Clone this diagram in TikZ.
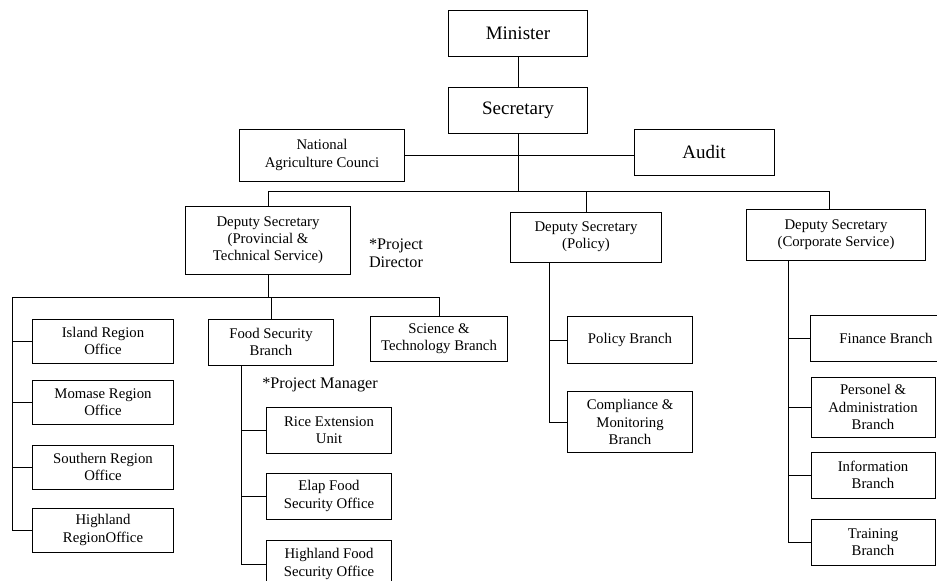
\documentclass[tikz,border=0pt]{standalone}
\usepackage{fontspec}
\setmainfont{Liberation Serif}
\usetikzlibrary{positioning}
\usetikzlibrary{calc}

\tikzset{
  unit box/.style={draw, rectangle, line width=0.7pt, align=center, inner sep=1pt,
    font=\fontsize{10.5}{12.3}\selectfont},
  big box/.style={unit box, font=\fontsize{13.5}{16}\selectfont},
  region box/.style={unit box, minimum width=3.5cm, minimum height=1.1cm},
  food box/.style={unit box, minimum width=3.125cm, minimum height=1.15cm},
  corp box/.style={unit box, minimum width=3.1cm, minimum height=1.15cm},
  note/.style={align=center, font=\fontsize{11.5}{12.8}\selectfont},
  link/.style={line width=0.7pt},
}

\begin{document}
\begin{tikzpicture}[x=0.025cm, y=-0.025cm]
    \useasboundingbox (0,0) rectangle (937,580);
    \clip (0,0) rectangle (937,580);

    % top of the chart
    \node[big box, minimum width=3.475cm, minimum height=1.15cm] (minister) at (518,33) {Minister};
    \node[big box, minimum width=3.475cm, minimum height=1.15cm, below=0.75cm of minister] (secretary) {Secretary};
    \node[unit box, minimum width=4.125cm, minimum height=1.3cm] (council) at (322,155) {National\\Agriculture Counci};
    \node[big box, minimum width=3.5cm, minimum height=1.15cm] (audit) at (704,152) {Audit};

    % deputy secretaries
    \node[unit box, minimum width=4.125cm, minimum height=1.7cm] (dsprov) at (268,240) {Deputy Secretary\\(Provincial \&\\Technical Service)};
    \node[unit box, minimum width=3.75cm, minimum height=1.25cm] (dspol) at (586,237) {Deputy Secretary\\(Policy)};
    \node[unit box, minimum width=4.475cm, minimum height=1.275cm] (dscorp) at (836,235) {Deputy Secretary\\(Corporate Service)};
    \node[note] (director) at (396,253) {*Project\\Director};

    % provincial and technical service
    \node[region box] (island) at (103,341) {Island Region\\Office};
    \node[region box, below=0.4cm of island] (momase) {Momase Region\\Office};
    \node[region box, below=0.5cm of momase] (southern) {Southern Region\\Office};
    \node[region box, below=0.45cm of southern] (highreg) {Highland\\RegionOffice};
    \node[food box] (fsb) at (271,342) {Food Security\\Branch};
    \node[unit box, minimum width=3.4cm, minimum height=1.125cm] (sci) at (439,339) {Science \&\\Technology Branch};

    \node[note] (manager) at (320,385) {*Project Manager};
    \node[food box] (rice) at (329,430) {Rice Extension\\Unit};
    \node[food box, below=0.475cm of rice] (elap) {Elap Food\\Security Office};
    \node[food box, minimum height=1.2cm, below=0.5cm of elap] (highfood) {Highland Food\\Security Office};

    % policy
    \node[food box, minimum height=1.175cm] (policy) at (630,340) {Policy Branch};
    \node[food box, minimum height=1.525cm, below=0.675cm of policy] (compliance) {Compliance \&\\Monitoring\\Branch};

    % corporate service
    \node[unit box, minimum width=3.775cm, minimum height=1.15cm] (finance) at (886,338) {Finance Branch};
    \node[corp box, minimum height=1.5cm] (personel) at (873,407) {Personel \&\\Administration\\Branch};
    \node[corp box, below=0.35cm of personel] (information) {Information\\Branch};
    \node[corp box, below=0.5cm of information] (training) {Training\\Branch};

    \coordinate (topbus) at (0,191);
    \coordinate (corpdrop) at (829,191);
    \coordinate (provbus) at (12,297);
    \coordinate (foodspine) at (241,0);
    \coordinate (polspine) at (549,0);
    \coordinate (corpspine) at (788,0);

    \draw[link] (minister) -- (secretary);
    \draw[link] (secretary) -- (secretary |- topbus);
    \draw[link] (council.east) -- (council.east -| audit.west);
    \draw[link] (dsprov.north) |- (corpdrop) -- (corpdrop |- dscorp.north);
    \draw[link] (dspol.north |- topbus) -- (dspol.north);

    \draw[link] (dsprov.south) -- (dsprov.south |- provbus);
    \draw[link] (highreg.west) -| (provbus) -| (sci.north);
    \draw[link] (fsb.north |- provbus) -- (fsb.north);
    \foreach \r in {island, momase, southern}
        \draw[link] (\r.west) -- (\r.west -| provbus);

    \draw[link] (fsb.south -| foodspine) |- (highfood.west);
    \foreach \f in {rice, elap}
        \draw[link] (\f.west) -- (\f.west -| foodspine);

    \draw[link] (dspol.south -| polspine) |- (compliance.west);
    \draw[link] (policy.west) -- (policy.west -| polspine);

    \draw[link] (dscorp.south -| corpspine) |- (training.west);
    \foreach \c in {finance, personel, information}
        \draw[link] (\c.west) -- (\c.west -| corpspine);

\end{tikzpicture}
\end{document}
